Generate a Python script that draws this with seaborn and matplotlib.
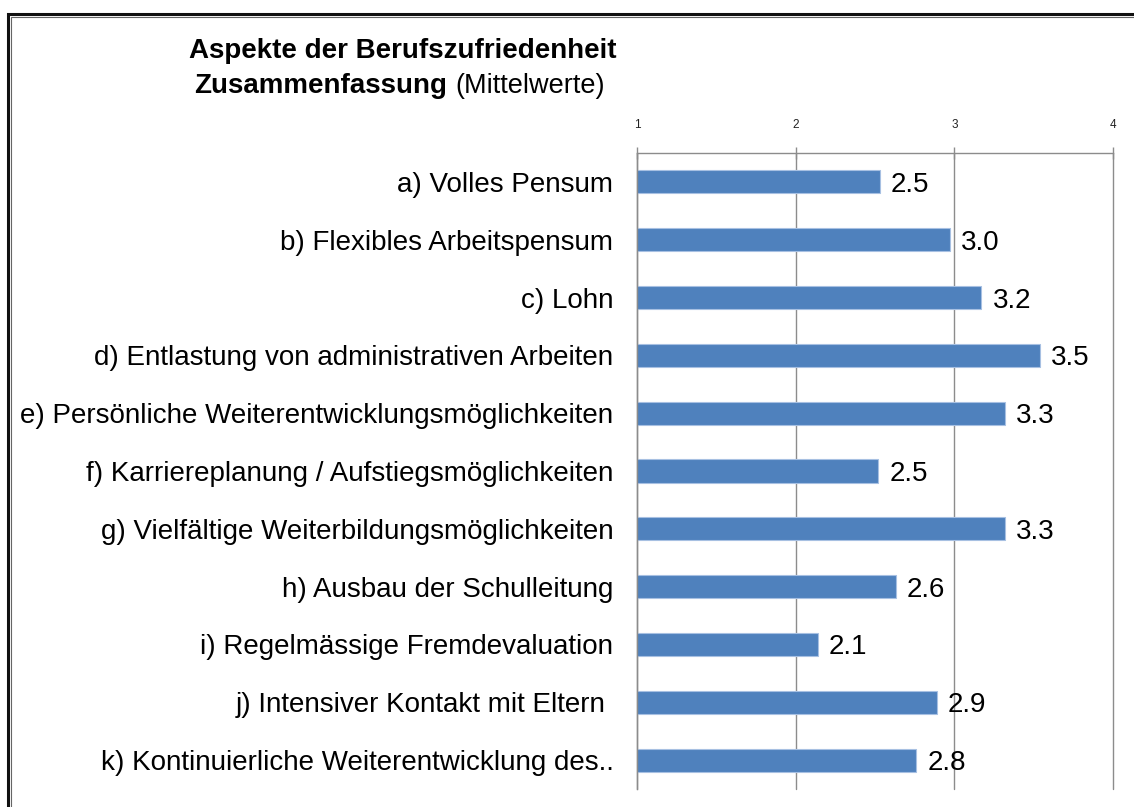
import matplotlib
matplotlib.use('Agg')
import numpy as np
import pandas as pd
import matplotlib.pyplot as plt
import seaborn as sns
from matplotlib.patches import Rectangle

categories = [
    'a) Volles Pensum',
    'b) Flexibles Arbeitspensum',
    'c) Lohn',
    'd) Entlastung von administrativen Arbeiten',
    'e) Persönliche Weiterentwicklungsmöglichkeiten',
    'f) Karriereplanung / Aufstiegsmöglichkeiten',
    'g) Vielfältige Weiterbildungsmöglichkeiten',
    'h) Ausbau der Schulleitung',
    'i) Regelmässige Fremdevaluation',
    'j) Intensiver Kontakt mit Eltern ',
    'k) Kontinuierliche Weiterentwicklung des..',
]
means = [2.53, 2.97, 3.17, 3.54, 3.32, 2.52, 3.32, 2.63, 2.14, 2.89, 2.76]
x_ticks = [1, 2, 3, 4]

df = pd.DataFrame({'aspekt': categories, 'mittelwert': means})

sns.set_style('white')
plt.rcParams['font.family'] = ['Liberation Sans', 'DejaVu Sans']
plt.rcParams['text.color'] = 'black'
plt.rcParams['xtick.color'] = 'black'
plt.rcParams['ytick.color'] = 'black'

W, H = 1134, 807
fig = plt.figure(figsize=(W / 100, H / 100), dpi=100)
ax = fig.add_axes([637 / W, 1 - 789 / H, (1113 - 637) / W, (789 - 153) / H])

sns.barplot(data=df, x='mittelwert', y='aspekt', orient='h', color='#4F81BD',
            saturation=1, width=0.4, edgecolor='#A7C0E2', linewidth=0.8, ax=ax)

ax.set_xlim(1, 4)
ax.set_ylim(len(categories) - 0.5, -0.5)
ax.set_xlabel('')
ax.set_ylabel('')

# x axis on top
ax.xaxis.tick_top()
ax.set_xticks(x_ticks)
ax.set_xticklabels([str(t) for t in x_ticks], fontsize=8.5, color='#222222')
ax.tick_params(axis='x', direction='inout', length=8, width=1, color='#8c8c8c', pad=12)
ax.grid(axis='x', color='#8c8c8c', linewidth=1)
for gl in ax.get_xgridlines():
    gl.set_clip_on(False)
ax.set_axisbelow(True)

# category boundaries as ticks, labels in the middle
ax.set_yticks(np.arange(-0.5, len(categories), 1))
ax.set_yticklabels([])
ax.set_yticks(range(len(categories)), minor=True)
ax.set_yticklabels(categories, minor=True, fontsize=20, color='black')
ax.tick_params(axis='y', which='major', direction='out', length=6, width=1, color='#8c8c8c')
ax.tick_params(axis='y', which='minor', length=0, pad=17)

for s in ['right', 'bottom']:
    ax.spines[s].set_visible(False)
for s in ['top', 'left']:
    ax.spines[s].set_color('#8c8c8c')
    ax.spines[s].set_linewidth(1)

# value labels next to the bars
for i, v in enumerate(means):
    ax.annotate(f'{v:.1f}', xy=(v, i), xytext=(8, 0), textcoords='offset points',
                ha='left', va='center_baseline', fontsize=20, color='black')

# title
fig.text(403 / W, 1 - 51 / H, 'Aspekte der Berufszufriedenheit', ha='center', va='center',
         fontsize=20, fontweight='bold')
fig.text(194 / W, 1 - 86 / H, 'Zusammenfassung', ha='left', va='center',
         fontsize=20, fontweight='bold')
fig.text(455 / W, 1 - 86 / H, '(Mittelwerte)', ha='left', va='center', fontsize=19.5)

# double frame
fig.add_artist(Rectangle((7.5 / W, -0.1), 1.2, 1.1 - 13.5 / H, transform=fig.transFigure,
                         fill=False, ec='#111111', lw=2.2))
fig.add_artist(Rectangle((11 / W, -0.1), 1.2, 1.1 - 17 / H, transform=fig.transFigure,
                         fill=False, ec='#666666', lw=0.8))

fig.savefig('out.png', dpi=100)
